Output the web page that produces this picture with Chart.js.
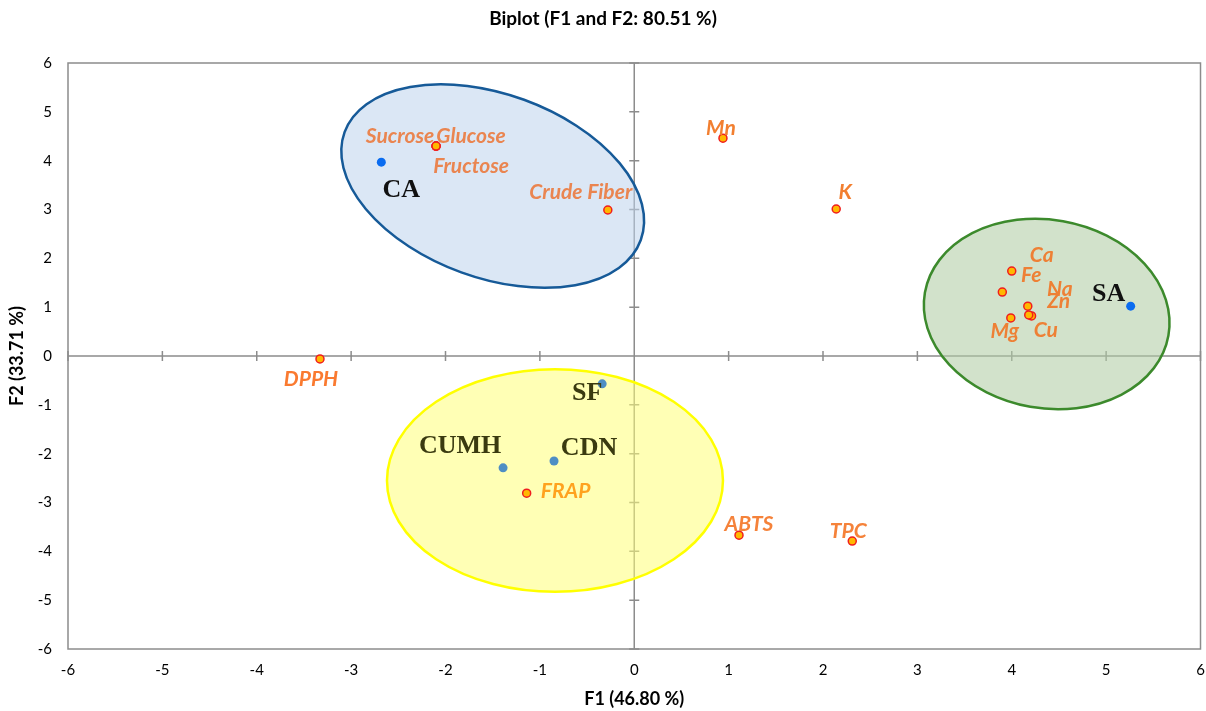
<!DOCTYPE html>
<html>
<head>
<meta charset="utf-8">
<script src="https://cdn.jsdelivr.net/npm/chart.js@4/dist/chart.umd.min.js"></script>
<style>
  html, body { margin: 0; padding: 0; background: #fff; }
  #wrap { width: 1206px; height: 711px; }
</style>
</head>
<body>
<div id="wrap"><canvas id="chartCanvas" width="1206" height="711"></canvas></div>
<script>
// --- data ---
const obsNames = ["CA", "SA", "SF", "CDN", "CUMH"];
const obsF1 = [-2.68, 5.26, -0.34, -0.85, -1.39];
const obsF2 = [3.97, 1.02, -0.57, -2.15, -2.29];

const varNames = ["Sucrose", "Glucose", "Fructose", "Crude Fiber", "Mn", "K", "Ca", "Fe",
  "Na", "Zn", "Cu", "Mg", "DPPH", "FRAP", "ABTS", "TPC"];
const varF1 = [-2.10, -2.10, -2.10, -0.28, 0.94, 2.14, 4.00, 3.90,
  4.17, 4.21, 4.18, 3.99, -3.33, -1.14, 1.11, 2.31];
const varF2 = [4.30, 4.30, 4.30, 2.99, 4.46, 3.01, 1.74, 1.31,
  1.02, 0.82, 0.84, 0.78, -0.06, -2.81, -3.67, -3.79];

const axisTicks = [-6, -5, -4, -3, -2, -1, 0, 1, 2, 3, 4, 5, 6];

// group ellipses: centre (F1, F2), half widths in axis units, tilt in degrees
const groupCentres = [[-1.50, 3.48], [4.37, 0.86], [-0.84, -2.55]];
const groupRadii = [[1.67, 1.88], [1.31, 1.93], [1.78, 2.28]];
const groupTilt = [20, 10, 0];

// --- label placement (pixel offsets from the point) ---
const varOffsets = [[-36, -10], [35, -10], [35, 20], [-27, -18], [-2, -10], [9, -17], [30, -16], [29, -17],
  [32, -17], [27, -15], [17, 15], [-6, 13], [-9, 20], [39, -2], [10, -11], [-4, -10]];
const varColors = ["#EA8550", "#EA8550", "#EA8550", "#EA8550", "#F27F30", "#F27F30", "#EE8035", "#EE8035",
  "#EE8035", "#EE8035", "#EE8035", "#EE8035", "#FA7A30", "#FFA21F", "#F5823A", "#F5823A"];
const obsOffsets = [[20, 28], [-22, -12], [-15, 9], [35, -13], [-43, -22]];
const obsColors = ["#111", "#111", "#3A3A10", "#3A3A10", "#3A3A10"];
const ellipseFill = ["rgba(190,212,236,0.55)", "rgba(178,205,165,0.58)", "rgba(255,255,120,0.55)"];
const ellipseStroke = ["#165A98", "#3C8A2C", "#FFFF00"];

const canvas = document.getElementById("chartCanvas");

const biplotExtras = {
  id: "biplotExtras",
  beforeDatasetsDraw(chart) {
    const { ctx, chartArea: a, scales: { x, y } } = chart;
    ctx.save();
    // plot box
    ctx.strokeStyle = "#8C8C8C";
    ctx.lineWidth = 1.5;
    ctx.strokeRect(a.left, a.top, a.right - a.left, a.bottom - a.top);
    // axes through the origin with cross ticks
    const x0 = x.getPixelForValue(0), y0 = y.getPixelForValue(0);
    ctx.beginPath();
    ctx.moveTo(a.left, y0); ctx.lineTo(a.right, y0);
    ctx.moveTo(x0, a.top); ctx.lineTo(x0, a.bottom);
    axisTicks.forEach(t => {
      const px = x.getPixelForValue(t), py = y.getPixelForValue(t);
      ctx.moveTo(px, y0 - 5); ctx.lineTo(px, y0 + 5);
      ctx.moveTo(x0 - 5, py); ctx.lineTo(x0 + 5, py);
    });
    ctx.stroke();
    // group ellipses
    groupCentres.forEach((c, i) => {
      const cx = x.getPixelForValue(c[0]), cy = y.getPixelForValue(c[1]);
      const rx = Math.abs(x.getPixelForValue(c[0] + groupRadii[i][0]) - cx);
      const ry = Math.abs(y.getPixelForValue(c[1] + groupRadii[i][1]) - cy);
      ctx.beginPath();
      ctx.ellipse(cx, cy, rx, ry, groupTilt[i] * Math.PI / 180, 0, Math.PI * 2);
      ctx.fillStyle = ellipseFill[i];
      ctx.fill();
      ctx.lineWidth = 2.5;
      ctx.strokeStyle = ellipseStroke[i];
      ctx.stroke();
    });
    ctx.restore();
  },
  afterDatasetsDraw(chart) {
    const { ctx, scales: { x, y } } = chart;
    ctx.save();
    ctx.textAlign = "center";
    ctx.textBaseline = "middle";
    ctx.font = "italic bold 21px Lato";
    varNames.forEach((n, i) => {
      ctx.fillStyle = varColors[i];
      ctx.fillText(n, x.getPixelForValue(varF1[i]) + varOffsets[i][0], y.getPixelForValue(varF2[i]) + varOffsets[i][1]);
    });
    ctx.font = "bold 26px 'Liberation Serif'";
    obsNames.forEach((n, i) => {
      ctx.fillStyle = obsColors[i];
      ctx.fillText(n, x.getPixelForValue(obsF1[i]) + obsOffsets[i][0], y.getPixelForValue(obsF2[i]) + obsOffsets[i][1]);
    });
    ctx.restore();
  }
};

new Chart(canvas, {
  type: "scatter",
  data: {
    datasets: [
      {
        label: "Variables",
        data: varF1.map((v, i) => ({ x: v, y: varF2[i] })),
        pointRadius: 4,
        pointBorderWidth: 1.5,
        pointBackgroundColor: "#FFB800",
        pointBorderColor: "#F01E1E"
      },
      {
        label: "Observations",
        data: obsF1.map((v, i) => ({ x: v, y: obsF2[i] })),
        pointRadius: 4.5,
        pointBorderWidth: 0,
        pointBackgroundColor: ctx => (ctx.dataIndex < 2 ? "#0A6CF0" : "#4E8EC4")
      }
    ]
  },
  plugins: [biplotExtras],
  options: {
    responsive: false,
    animation: false,
    layout: { padding: { left: 0, right: 0, top: 0, bottom: 0 } },
    plugins: {
      legend: { display: false },
      tooltip: { enabled: false },
      title: {
        display: true,
        text: "Biplot (F1 and F2: 80.51 %)",
        color: "#000",
        font: { family: "Lato", size: 19, weight: "bold" },
        padding: { top: 7, bottom: 33.2 }
      }
    },
    scales: {
      x: {
        min: -6, max: 6,
        grid: { display: false, tickLength: 12 },
        border: { display: false },
        ticks: { stepSize: 1, color: "#000", font: { family: "Lato", size: 15 }, padding: 0 },
        title: { display: true, text: "F1 (46.80 %)", color: "#000", font: { family: "Lato", size: 18, weight: "bold" }, padding: { top: 4, bottom: 1 } },
        afterFit(s) { s.height = 62; }
      },
      y: {
        min: -6, max: 6,
        grid: { display: false, tickLength: 8 },
        border: { display: false },
        ticks: { stepSize: 1, color: "#000", font: { family: "Lato", size: 15 }, padding: 8 },
        title: { display: true, text: "F2 (33.71 %)", color: "#000", font: { family: "Lato", size: 18, weight: "bold" }, padding: { top: 6, bottom: 2 } },
        afterFit(s) { s.width = 68; }
      }
    }
  }
});
</script>
</body>
</html>
